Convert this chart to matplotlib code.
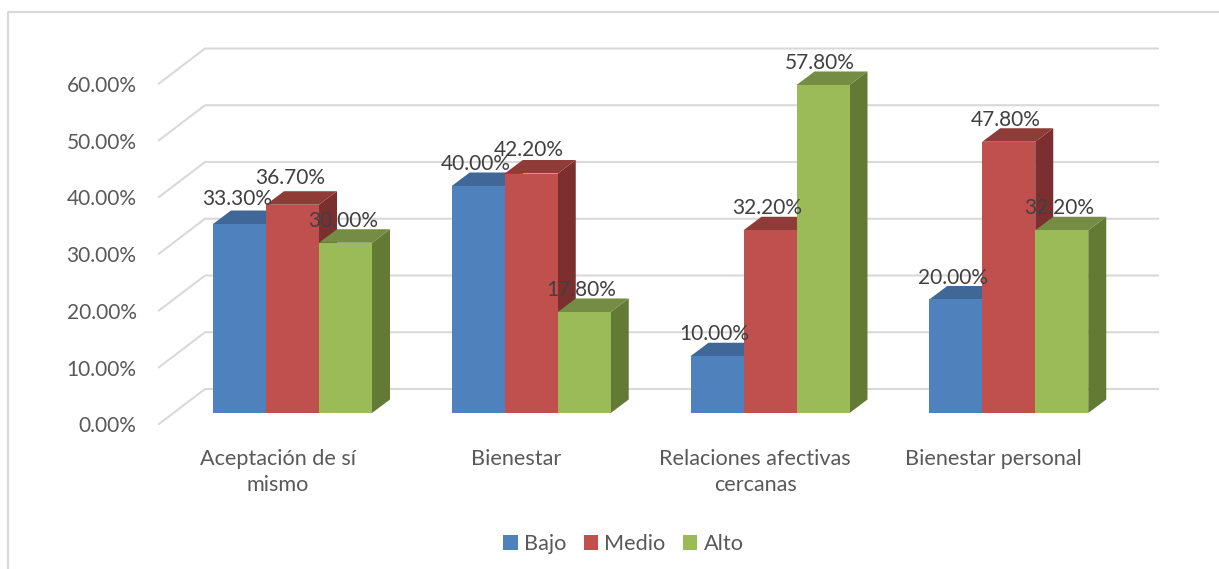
import numpy as np
import matplotlib
matplotlib.use("Agg")
import matplotlib.pyplot as plt
from matplotlib.lines import Line2D
from matplotlib.patches import Patch, Polygon

plt.rcParams["font.family"] = ["Lato", "DejaVu Sans"]

# Data
categories = ["Aceptación de sí\nmismo", "Bienestar", "Relaciones afectivas\ncercanas", "Bienestar personal"]
series_names = ["Bajo", "Medio", "Alto"]
bajo = [33.3, 40.0, 10.0, 20.0]
medio = [36.7, 42.2, 32.2, 47.8]
alto = [30.0, 17.8, 57.8, 32.2]
y_ticks = [0, 10, 20, 30, 40, 50, 60]

# front, top and side colours of each series
front_colors = ["#4F81BD", "#C0504D", "#9BBB59"]
top_colors = ["#3F6797", "#8F3C39", "#748C43"]
side_colors = ["#2F4D71", "#7B2F2E", "#637A35"]

W, H = 1219, 569
PX_X = 238.75   # pixels per category
PX_Y = 5.675    # pixels per percent
X0, Y0 = 292.5, 413   # pixel position of first group centre / bar base

fig = plt.figure(figsize=(W / 100, H / 100), dpi=100)
ax = fig.add_axes([0, 0, 1, 1])
ax.set_xlim(-X0 / PX_X, (W - X0) / PX_X)
ax.set_ylim((Y0 - H) / PX_Y, Y0 / PX_Y)
ax.axis("off")

# Outer border of the chart area
border = "#D9D9D9"
fig.add_artist(Line2D([8 / W, 8 / W, 1], [0, 1 - 12 / H, 1 - 12 / H], color=border, lw=1.5))

# Back wall gridlines and the slanted part on the side wall
wall_left = (205 - X0) / PX_X
wall_right = (1158 - X0) / PX_X
wall_dx = 46 / PX_X
back_y = 24 / PX_Y
front_y = -11 / PX_Y
for v in y_ticks:
    ax.plot([wall_left - wall_dx, wall_left, wall_right],
            [v + front_y, v + back_y, v + back_y],
            color="#D9D9D9", lw=1.5, zorder=1, solid_joinstyle="miter")
    ax.text((136.5 - X0) / PX_X, v + front_y - 2.5 / PX_Y, "%.2f%%" % v, ha="right", va="center",
            fontsize=15, color="#595959")

# Bars: front face, top and side, left to right so later bars cover earlier sides
bar_w = 53 / PX_X
dx = 18 / PX_X
dy = 13.5 / PX_Y
z = 2
for s, values in enumerate([bajo, medio, alto]):
    for i, v in enumerate(values):
        x = i + (s - 1.5) * bar_w
        side = [(x + bar_w, 0), (x + bar_w + dx, dy), (x + bar_w + dx, v + dy), (x + bar_w, v)]
        top = [(x, v), (x + dx, v + dy), (x + bar_w + dx, v + dy), (x + bar_w, v)]
        ax.add_patch(Polygon(side, facecolor=side_colors[s], edgecolor="none", zorder=z))
        ax.add_patch(Polygon(top, facecolor=top_colors[s], edgecolor="none", zorder=z))
        ax.bar(x, v, bar_w, align="edge", color=front_colors[s], zorder=z + 0.5)
        z += 1

# Data labels go over every bar; two of them sit a bit higher in the original
label_nudge = {(0, 0): 2.5, (1, 0): 3.2, (1, 1): 1.0}
for s, values in enumerate([bajo, medio, alto]):
    for i, v in enumerate(values):
        x = i + (s - 1) * bar_w
        ax.annotate("%.2f%%" % v, (x, v), xytext=(-2, 15.7 + label_nudge.get((s, i), 0)),
                    textcoords="offset points", ha="center", va="center",
                    fontsize=15, color="#404040", zorder=100)

# Category labels
for i, c in enumerate(categories):
    ax.text(i - 15 / PX_X, -36.5 / PX_Y, c, ha="center", va="top", fontsize=15.6,
            color="#595959", linespacing=1.33)

handles = [Patch(facecolor=c, edgecolor="none") for c in front_colors]
ax.legend(handles, series_names, ncol=3, loc="center", bbox_to_anchor=(623.5 / W, 1 - 544 / H),
          frameon=False, fontsize=15.6, labelcolor="#595959", handlelength=0.65, handleheight=0.65,
          handletextpad=0.3, columnspacing=0.8)

fig.savefig("out.png", dpi=100)
